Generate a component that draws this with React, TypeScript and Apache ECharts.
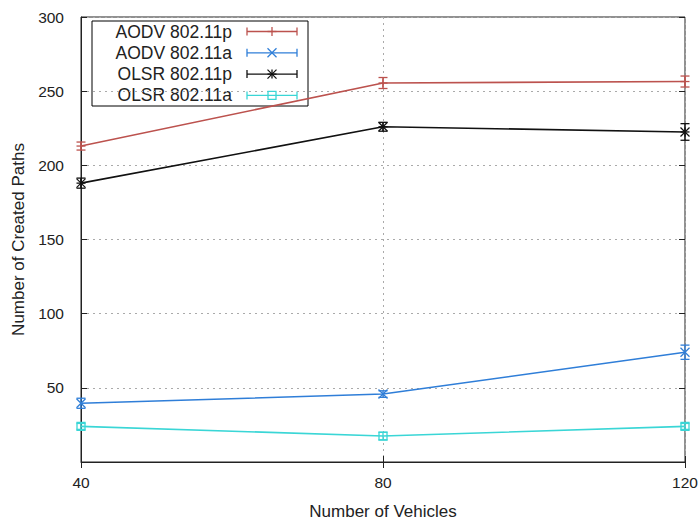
import React, { useEffect, useRef } from "react";
import * as echarts from "echarts";

const xValues = [40, 80, 120];
const seriesNames = ["AODV 802.11p", "AODV 802.11a", "OLSR 802.11p", "OLSR 802.11a"];
const aodvP = [213, 255.5, 256.5];
const aodvPErr = [2.7, 3.7, 3.7];
const aodvA = [39.6, 45.8, 74];
const aodvAErr = [3.4, 2.2, 4.8];
const olsrP = [188, 226, 222.5];
const olsrPErr = [3.4, 3, 5.6];
const olsrA = [24, 17.5, 24];
const olsrAErr = [2, 2.5, 2];
const yTicks = [0, 50, 100, 150, 200, 250, 300];

const colors = ["#bc524e", "#2f7ed8", "#111111", "#3ad6d6"];
const markers = ["plus", "cross", "star", "square"];
const FONT = "Liberation Sans, Arial, sans-serif";

function markerShapes(kind: string, cx: number, cy: number, color: string, s = 4.5) {
  const ln = (x1: number, y1: number, x2: number, y2: number) => ({
    type: "line",
    shape: { x1, y1, x2, y2 },
    style: { stroke: color, lineWidth: 1.3 },
    z2: 10,
  });
  const out: any[] = [];
  if (kind === "plus" || kind === "star") {
    out.push(ln(cx - s, cy, cx + s, cy), ln(cx, cy - s, cx, cy + s));
  }
  if (kind === "cross" || kind === "star") {
    out.push(ln(cx - s, cy - s, cx + s, cy + s), ln(cx - s, cy + s, cx + s, cy - s));
  }
  if (kind === "square") {
    out.push({
      type: "rect",
      shape: { x: cx - s + 0.5, y: cy - s + 0.5, width: 2 * s - 1, height: 2 * s - 1 },
      style: { fill: "none", stroke: color, lineWidth: 1.3 },
      z2: 10,
    });
  }
  return out;
}

export default function App() {
  const ref = useRef<HTMLDivElement>(null);
  useEffect(() => {
    if (!ref.current) return;
    const chart = echarts.init(ref.current, null, { renderer: "svg" });
    const values = [aodvP, aodvA, olsrP, olsrA];
    const errs = [aodvPErr, aodvAErr, olsrPErr, olsrAErr];

    const lineSeries = values.map((vals, i) => ({
      name: seriesNames[i],
      type: "line",
      data: xValues.map((x, j) => [x, vals[j]]),
      showSymbol: false,
      lineStyle: { color: colors[i], width: 1.6 },
      itemStyle: { color: colors[i] },
      z: 3,
    }));

    const errSeries = values.map((vals, i) => ({
      name: seriesNames[i] + " err",
      type: "custom",
      data: xValues.map((x, j) => [x, vals[j], errs[i][j]]),
      z: 4,
      renderItem: (params: any, api: any) => {
        const x = api.value(0);
        const y = api.value(1);
        const e = api.value(2);
        const c = api.coord([x, y]);
        const top = api.coord([x, y + e]);
        const bot = api.coord([x, y - e]);
        const col = colors[i];
        const cap = 4.5;
        const st = { stroke: col, lineWidth: 1.3 };
        return {
          type: "group",
          children: [
            { type: "line", shape: { x1: c[0], y1: top[1], x2: c[0], y2: bot[1] }, style: st },
            { type: "line", shape: { x1: c[0] - cap, y1: top[1], x2: c[0] + cap, y2: top[1] }, style: st },
            { type: "line", shape: { x1: c[0] - cap, y1: bot[1], x2: c[0] + cap, y2: bot[1] }, style: st },
            ...markerShapes(markers[i], c[0], c[1], col),
          ],
        };
      },
    }));

    const legendLeft = 92;
    const legendTop = 21;
    const rowGap = 21.3;
    const legendChildren: any[] = [
      {
        type: "rect",
        shape: { x: legendLeft, y: legendTop, width: 216, height: 85 },
        style: { fill: "#ffffff", stroke: "#000000", lineWidth: 1 },
      },
    ];
    seriesNames.forEach((name, i) => {
      const cy = legendTop + 10.5 + i * rowGap;
      const col = colors[i];
      legendChildren.push({
        type: "text",
        x: 232,
        y: cy,
        style: {
          text: name,
          fill: "#222",
          font: `17.5px ${FONT}`,
          align: "right",
          verticalAlign: "middle",
        },
      });
      const st = { stroke: col, lineWidth: 1.3 };
      legendChildren.push(
        { type: "line", shape: { x1: 247, y1: cy, x2: 297, y2: cy }, style: st },
        { type: "line", shape: { x1: 247, y1: cy - 4, x2: 247, y2: cy + 4 }, style: st },
        { type: "line", shape: { x1: 297, y1: cy - 4, x2: 297, y2: cy + 4 }, style: st },
        ...markerShapes(markers[i], 272, cy, col)
      );
    });

    const gridLine = { show: true, lineStyle: { color: "#aaaaaa", type: [2, 4], width: 1 } };

    chart.setOption({
      animation: false,
      backgroundColor: "#ffffff",
      textStyle: { fontFamily: FONT },
      grid: {
        left: 81,
        right: 13,
        top: 17,
        bottom: 60,
        show: true,
        borderColor: "#222",
        borderWidth: 1,
        backgroundColor: "transparent",
        outerBoundsMode: "none",
        containLabel: false,
      },
      xAxis: [
        {
          type: "value",
          min: 40,
          max: 120,
          interval: 40,
          name: "Number of Vehicles",
          nameLocation: "middle",
          nameGap: 41,
          nameTextStyle: { fontSize: 17, color: "#222", fontFamily: FONT },
          axisLine: { show: true, lineStyle: { color: "#222" } },
          axisTick: { show: true, inside: true, length: 6, lineStyle: { color: "#222" } },
          axisLabel: { fontSize: 15.5, color: "#222", margin: 12, fontFamily: FONT },
          splitLine: gridLine,
        },
        {
          type: "value",
          position: "top",
          min: 40,
          max: 120,
          interval: 40,
          axisLine: { show: false },
          axisTick: { show: true, inside: true, length: 6, lineStyle: { color: "#222" } },
          axisLabel: { show: false },
          splitLine: { show: false },
        },
      ],
      yAxis: [
        {
          type: "value",
          min: yTicks[0],
          max: yTicks[yTicks.length - 1],
          interval: 50,
          name: "Number of Created Paths",
          nameLocation: "middle",
          nameGap: 43,
          nameTextStyle: { fontSize: 17, color: "#222", fontFamily: FONT },
          axisLine: { show: true, lineStyle: { color: "#222" } },
          axisTick: { show: true, inside: true, length: 6, lineStyle: { color: "#222" } },
          axisLabel: {
            fontSize: 15.5,
            color: "#222",
            margin: 17,
            fontFamily: FONT,
            formatter: (v: number) => (v === 0 ? "" : String(v)),
          },
          splitLine: gridLine,
        },
        {
          type: "value",
          position: "right",
          min: yTicks[0],
          max: yTicks[yTicks.length - 1],
          interval: 50,
          axisLine: { show: false },
          axisTick: { show: true, inside: true, length: 6, lineStyle: { color: "#222" } },
          axisLabel: { show: false },
          splitLine: { show: false },
        },
      ],
      series: [...lineSeries, ...errSeries],
      graphic: [{ type: "group", z: 100, children: legendChildren }],
    });
    return () => chart.dispose();
  }, []);
  return (
    <div
      ref={ref}
      style={{ position: "fixed", left: 0, top: 0, width: 698, height: 522 }}
    />
  );
}
